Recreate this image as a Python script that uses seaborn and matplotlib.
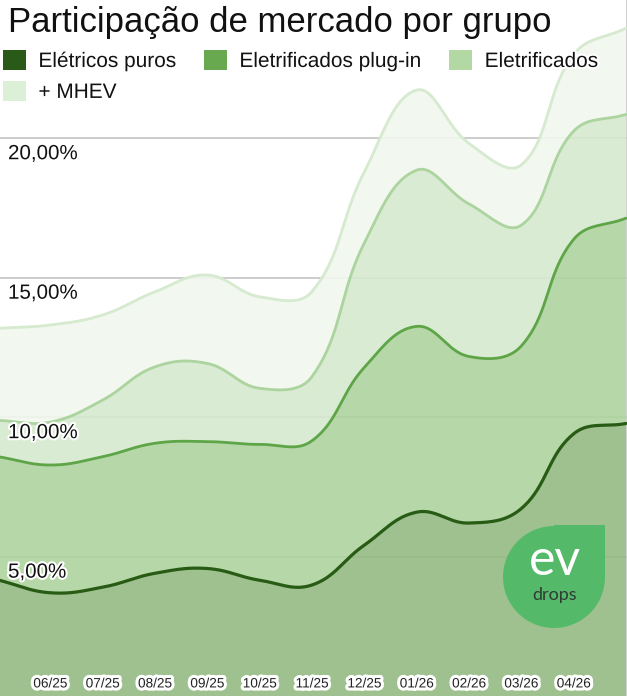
import numpy as np
import pandas as pd
import matplotlib
matplotlib.use("Agg")
import matplotlib.pyplot as plt
import matplotlib.patheffects as pe
import seaborn as sns
from matplotlib.patches import Patch, Circle, Rectangle
from matplotlib.colors import to_rgb

# monthly market share (%) per group
months = ["05/25", "06/25", "07/25", "08/25", "09/25", "10/25", "11/25",
          "12/25", "01/26", "02/26", "03/26", "04/26", "05/26"]
eletricos_puros = [4.16, 3.70, 3.90, 4.40, 4.57, 4.15, 3.98, 5.41, 6.59, 6.20, 6.72, 9.40, 9.77]
plug_in = [8.58, 8.28, 8.58, 9.06, 9.12, 9.02, 9.15, 11.78, 13.25, 12.17, 12.55, 16.37, 17.13]
eletrificados = [9.88, 9.82, 10.61, 11.80, 11.92, 11.03, 11.45, 16.24, 18.85, 17.64, 16.88, 20.25, 20.85]
mhev = [13.18, 13.30, 13.66, 14.49, 15.09, 14.31, 14.50, 18.79, 21.72, 19.81, 19.04, 23.00, 23.94]

series_names = ["Elétricos puros", "Eletrificados plug-in", "Eletrificados", "+ MHEV"]
series_values = [eletricos_puros, plug_in, eletrificados, mhev]
yticks = [5, 10, 15, 20]
ytick_labels = ["5,00%", "10,00%", "15,00%", "20,00%"]

line_colors = ["#285c15", "#5ea548", "#acd49f", "#d5eacf"]
fill_colors = ["#9fc28f", "#b6d7a8", "#d9ebd3", "#f2f8f0"]
legend_colors = ["#2a5a18", "#68a94f", "#b2d9a4", "#dcefd7"]
line_widths = [2.3, 2.0, 2.0, 2.0]

FILL_ALPHA = 0.9
PX_X, PX_Y = 52.3, 27.9  # pixel scale used for the spline smoothing


def smooth_curve(values, tension=0.4, steps=40):
    """Bezier smoothing like chart.js (tension 0.4), done in pixel space."""
    pts = np.column_stack([np.arange(len(values)) * PX_X, np.array(values) * PX_Y])
    n = len(pts)
    cp_prev = np.zeros_like(pts)
    cp_next = np.zeros_like(pts)
    for i in range(n):
        prev = pts[i - 1] if i > 0 else pts[i]
        nxt = pts[i + 1] if i < n - 1 else pts[i]
        d01 = np.hypot(*(pts[i] - prev))
        d12 = np.hypot(*(nxt - pts[i]))
        tot = d01 + d12
        s01 = d01 / tot if tot else 0
        s12 = d12 / tot if tot else 0
        cp_prev[i] = pts[i] - tension * s01 * (nxt - prev)
        cp_next[i] = pts[i] + tension * s12 * (nxt - prev)
    t = np.linspace(0, 1, steps)[:, None]
    out = [pts[:1]]
    for i in range(n - 1):
        p0, p1, p2, p3 = pts[i], cp_next[i], cp_prev[i + 1], pts[i + 1]
        seg = ((1 - t) ** 3) * p0 + 3 * ((1 - t) ** 2) * t * p1 + 3 * (1 - t) * t ** 2 * p2 + t ** 3 * p3
        out.append(seg[1:])
    out = np.vstack(out)
    return out[:, 0] / PX_X, out[:, 1] / PX_Y


def under_white(color, alpha):
    rgb = np.array(to_rgb(color))
    return tuple(np.clip(1 - (1 - rgb) / alpha, 0, 1))


sns.set_theme(style="white")
plt.rcParams["font.family"] = ["Liberation Sans", "DejaVu Sans"]

fig = plt.figure(figsize=(6.27, 6.96), dpi=100)
ax = fig.add_axes([0, 0, 1, 1])

# smoothed curves in long format
frames = []
for name, vals in zip(series_names, series_values):
    xs, ys = smooth_curve(vals)
    frames.append(pd.DataFrame({"x": xs, "y": ys, "serie": name}))
df = pd.concat(frames, ignore_index=True)

# areas between consecutive curves
prev_x, prev_y = np.array([0, len(months) - 1]), np.array([0.0, 0.0])
for name, fc in zip(series_names, fill_colors):
    cur = df[df["serie"] == name]
    poly_x = np.concatenate([cur["x"].values, prev_x[::-1]])
    poly_y = np.concatenate([cur["y"].values, prev_y[::-1]])
    ax.fill(poly_x, poly_y, color=under_white(fc, FILL_ALPHA), alpha=FILL_ALPHA, lw=0, zorder=1)
    prev_x, prev_y = cur["x"].values, cur["y"].values

for name, lc, lw in zip(series_names, line_colors, line_widths):
    sns.lineplot(data=df[df["serie"] == name], x="x", y="y", color=lc, linewidth=lw,
                 sort=False, estimator=None, ax=ax, zorder=3)

ax.set_xlim(0.038, 12.019)
ax.set_ylim(0, 24.95)
ax.set_yticks(yticks)
ax.set_xticks([])
ax.yaxis.grid(True, color="#c8c8c8", linewidth=1.3, zorder=0)
ax.set_axisbelow(True)
ax.tick_params(left=False, labelleft=False, bottom=False, labelbottom=False)
ax.set_xlabel("")
ax.set_ylabel("")
for side in ["top", "left", "bottom"]:
    ax.spines[side].set_visible(False)
ax.spines["right"].set_color("#c8c8c8")
ax.spines["right"].set_linewidth(1.2)

halo = [pe.withStroke(linewidth=3, foreground="white")]

# y labels inside the plot, just under each gridline
for v, lab in zip(yticks, ytick_labels):
    ax.text(8 / 627, v - 0.22, lab, transform=ax.get_yaxis_transform(), ha="left", va="top",
            fontsize=14.8, color="#111111", path_effects=halo, zorder=5)

# month labels along the bottom (first and last month not labelled)
for i, lab in enumerate(months):
    if i == 0 or i == len(months) - 1:
        continue
    ax.text(i, 0.45, lab, ha="center", va="center", fontsize=9.8, color="#222222",
            path_effects=[pe.withStroke(linewidth=4.5, foreground="white")], zorder=5)

fig.text(8 / 627, 1 - 6 / 696, "Participação de mercado por grupo", ha="left", va="top",
         fontsize=25, color="#111111")

handles = [Patch(facecolor=c, edgecolor="none") for c in legend_colors]
order = [0, 3, 1, 2]
leg = fig.legend([handles[i] for i in order], [series_names[i] for i in order],
                 loc="upper left", bbox_to_anchor=(3 / 627, 1 - 50 / 696), ncol=3,
                 frameon=False, fontsize=15, handlelength=1.08, handleheight=1.08,
                 handletextpad=0.62, columnspacing=1.33, labelspacing=0.48, borderaxespad=0,
                 borderpad=0)
for txt in leg.get_texts():
    txt.set_color("#111111")
    txt.set_path_effects([pe.withStroke(linewidth=3, foreground="white")])

# "ev drops" badge in the lower right corner
logo = fig.add_axes([503 / 627, (696 - 631) / 696, 103 / 627, 106 / 696])
logo.set_xlim(0, 103)
logo.set_ylim(0, 106)
logo.set_aspect("equal")
logo.axis("off")
logo.add_patch(Circle((51, 54), 51, color="#55b96a", lw=0))
logo.add_patch(Rectangle((51, 54), 51, 52, color="#55b96a", lw=0))
logo.text(52, 56, "ev", ha="center", va="baseline", fontsize=36, color="white",
          family="Lato", weight="normal")
logo.text(52, 31, "drops", ha="center", va="baseline", fontsize=13, color="#2f3b35",
          family="Lato", weight="normal")

fig.savefig("out.png", dpi=100)
